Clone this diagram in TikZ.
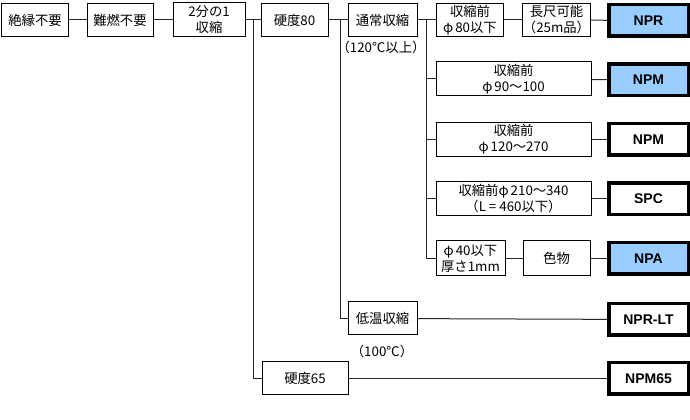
\documentclass[tikz,border=0pt]{standalone}
\usepackage{fontspec}
\setmainfont{Noto Sans CJK JP}
\newfontfamily\prodfont{Liberation Sans}
\usepackage{tikz}
\usetikzlibrary{positioning}
\definecolor{npblue}{HTML}{99CCFF}
\newlength\px \setlength\px{0.75pt}
\newcommand{\phisp}{φ\hspace{2\px}}

\begin{document}
\begin{tikzpicture}[x=0.75pt,y=-0.75pt]

\tikzset{stepbox/.style={draw=black,line width=1\px,fill=white,align=center,font=\fontsize{10}{12}\selectfont,inner sep=0pt,minimum width=67\px,minimum height=33\px},
prodbox/.style={draw=black,line width=3.5\px,fill=white,font=\prodfont\bfseries\fontsize{10.5}{12}\selectfont,inner sep=0pt,minimum width=79.5\px,minimum height=31.5\px},
blueprod/.style={prodbox,fill=npblue},
link/.style={black!85,line width=1\px},
note/.style={font=\fontsize{10}{12}\selectfont,inner sep=0pt}}

\useasboundingbox (0,0) rectangle (690,420);

% first row
\node[stepbox] (insul) at (35,20) {絶縁不要};
\node[stepbox,minimum width=66\px] (noflame) at (120,20) {難燃不要};
\node[stepbox,minimum width=72\px,minimum height=34\px] (half) at (209,20) {2分の1\\収縮};
\node[stepbox] (hard80) at (294.5,20) {硬度80};
\node[stepbox,minimum width=69\px] (usual) at (382.5,20) {通常収縮};
\node[note] (hotnote) at (381,47) {（120℃以上）};
\node[stepbox] (pre80) at (470,20) {収縮前\\\phisp80以下};
\node[stepbox] (long) at (556.5,20) {長尺可能\\（25m品）};
\node[blueprod] (npr) at (648.5,20.5) {NPR};

% branches of the usual shrink
\node[stepbox,minimum width=155\px,minimum height=34\px] (pre90) at (513.5,79) {収縮前\\\phisp90〜100};
\node[blueprod] (npm) at (648.5,80) {NPM};
\node[stepbox,minimum width=155\px,minimum height=34\px] (pre120) at (513.5,139.5) {収縮前\\\phisp120〜270};
\node[prodbox] (npmw) at (648.5,139.5) {NPM};
\node[stepbox,minimum width=155\px,minimum height=34\px] (pre210) at (513.5,199) {収縮前\phisp210〜340\\（L = 460以下）};
\node[prodbox] (spc) at (648.5,199) {SPC};
\node[stepbox,minimum width=69\px,minimum height=35\px] (pre40) at (470.5,258.5) {\phisp40以下\\厚さ1mm};
\node[stepbox,minimum height=35\px] (colour) at (556.5,258.5) {色物};
\node[blueprod] (npa) at (648.5,258.5) {NPA};

% low temperature and hardness 65
\node[stepbox,minimum width=69\px] (lowtemp) at (382.5,318.5) {低温収縮};
\node[note] (lownote) at (382,351) {（100℃）};
\node[prodbox] (nprlt) at (648.5,319.5) {NPR-LT};
\node[stepbox,minimum width=86\px] (hard65) at (305,378.5) {硬度65};
\node[prodbox] (npm65) at (648.5,378.5) {NPM65};

% Edges
\coordinate (fork1) at (253,20);
\coordinate (fork2) at (340,20);
\coordinate (fork3) at (426,20);
\draw[link] (insul) -- (noflame); \draw[link] (noflame) -- (half); \draw[link] (half) -- (hard80);
\draw[link] (hard80) -- (usual); \draw[link] (usual) -- (pre80); \draw[link] (pre80) -- (long); \draw[link] (long) -- (npr);
\draw[link] (fork1) |- (hard65); \draw[link] (fork2) |- (lowtemp);
\foreach \n in {pre90,pre120,pre210,pre40} \draw[link] (fork3) |- (\n);
\draw[link] (pre90) -- (npm); \draw[link] (pre120) -- (npmw); \draw[link] (pre210) -- (spc);
\draw[link] (pre40) -- (colour); \draw[link] (colour) -- (npa);
\draw[link] (lowtemp) -- (nprlt); \draw[link] (hard65) -- (npm65);

\end{tikzpicture}
\end{document}
